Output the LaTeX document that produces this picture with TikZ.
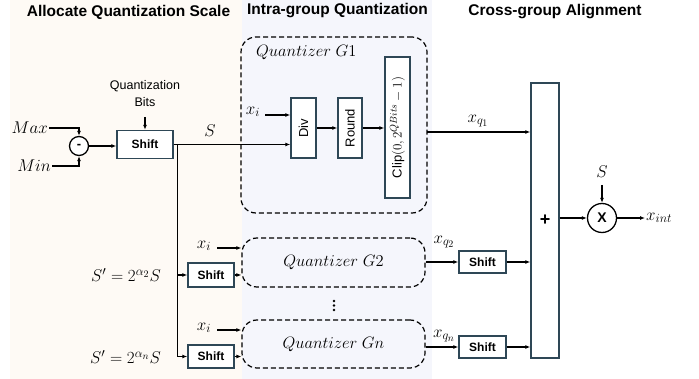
\RequirePackage{fix-cm}
\documentclass[tikz,border=0pt]{standalone}
\usepackage{fontspec}
\setmainfont{Liberation Sans}
\DeclareMathSizes{17}{17}{12.5}{10}
\DeclareMathSizes{16.5}{16.5}{12}{9.5}
\DeclareMathSizes{13}{13}{10}{8}
\usetikzlibrary{arrows.meta,positioning}
\definecolor{creambg}{HTML}{FEFAF5}
\definecolor{lavbg}{HTML}{F5F6FC}
\definecolor{boxline}{HTML}{2E4756}
\tikzset{
  every picture/.style={x=1pt,y=-1pt},
  arr/.style={line width=1.1pt,-{Latex[length=5pt,width=4pt]}},
  ln/.style={line width=1.1pt},
  title/.style={font=\bfseries\fontsize{15.5}{18}\selectfont,inner sep=0pt},
  blk/.style={draw=boxline,line width=1.4pt,fill=white,inner sep=0pt},
  shiftbox/.style={blk,font=\bfseries\fontsize{12}{14}\selectfont},
  vbox/.style={blk,font=\fontsize{13}{15}\selectfont},
  qbox/.style={draw=black,line width=1.2pt,dashed,dash pattern=on 5pt off 3pt,rounded corners=15pt,inner sep=0pt},
  mlab/.style={font=\fontsize{17}{19}\selectfont,inner sep=1pt},
  qlab/.style={font=\fontsize{16.5}{18}\selectfont},
  op/.style={draw=black,line width=1.3pt,circle,inner sep=0pt,fill=white},
}
\begin{document}
\begin{tikzpicture}
\useasboundingbox (0,0) rectangle (699,379);
\fill[creambg] (10,0) rectangle (242,379);
\fill[lavbg] (242,0) rectangle (432,379);

% titles
\node[title] (t1) at (128.5,12) {Allocate Quantization Scale};
\node[title] (t2) at (337.5,11) {Intra-group Quantization};
\node[title] (t3) at (555,12) {Cross-group Alignment};

% left section
\node[mlab,anchor=east] (maxl) at (49,128) {$Max$};
\node[mlab,anchor=east] (minl) at (52,166) {$Min$\hspace{5pt}};
\node[op,minimum size=19pt,font=\bfseries\fontsize{13}{14}\selectfont] (minus) at (79,146) {-};
\node[shiftbox,minimum width=56pt,minimum height=28pt] (shift1) at (145,144.5) {Shift};
\node[align=center,font=\fontsize{12.5}{17}\selectfont,inner sep=0pt] (qbits) at (145,94) {Quantization\\Bits};
\coordinate (qbarr) at (145,117);
\node[mlab] (slab) at (210,131) {$S$};
\coordinate (br) at (177.5,144.5);

\draw[arr] (maxl.east) -| (minus.north);
\draw[arr] (minl.east) -| (minus.south);
\draw[arr] (minus.east) -- (minus.east -| shift1.west);
\draw[arr] (qbarr) -- (shift1.north);

% quantizer G1
\node[qbox,minimum width=186pt,minimum height=176pt] (g1) at (334,125) {};
\node[qlab,anchor=west,inner sep=1pt] (g1lab) at (255,52) {$Quantizer\ G1$};
\node[vbox,minimum width=25pt,minimum height=60pt] (div) at (303.5,128) {\rotatebox{90}{Div}};
\node[vbox,minimum width=24pt,minimum height=60pt] (round) at (350,128) {\rotatebox{90}{Round}};
\node[vbox,minimum width=25pt,minimum height=141pt] (clip) at (397.5,127.5) {\rotatebox{90}{Clip$(0,2^{QBits}-1)$}};
\node[mlab] (xi1) at (253,112) {$x_i$};
\coordinate (xi1s) at (265,115);

\draw[arr] (shift1.east) -- (shift1.east -| div.west);
\draw[arr] (xi1s) -- (xi1s -| div.west);
\draw[arr] (div.east) -- (round.west);
\draw[arr] (round.east) -- (round.east -| clip.west);

% lower branches
\node[shiftbox,minimum width=46pt,minimum height=24pt] (shift2) at (211,275) {Shift};
\node[shiftbox,minimum width=46pt,minimum height=23pt] (shift3) at (211,356.5) {Shift};
\node[mlab,anchor=east] (sp2) at (162,275) {$S' = 2^{\alpha_2}S$};
\node[mlab,anchor=east] (spn) at (162,357) {$S' = 2^{\alpha_n}S$};
\node[qbox,qlab,minimum width=183pt,minimum height=49pt] (g2) at (333.5,262.5) {$Quantizer\ G2$};
\node[qbox,qlab,minimum width=183pt,minimum height=48pt] (gn) at (333.5,344) {$Quantizer\ Gn$};
\coordinate (dots) at (334,305.5);
\fill (dots) ++(0,-4.5) circle (1.4) (dots) circle (1.4) (dots) ++(0,4.5) circle (1.4);
\node[mlab] (xi2) at (204,246) {$x_i$};
\node[mlab] (xin) at (204,328) {$x_i$};
\coordinate (xi2s) at (217,248);
\coordinate (xins) at (217,330);

\draw[ln] (shift1.east) -- (br);
\draw[arr] (br) |- (shift3.west);
\draw[arr] (br |- shift2.west) -- (shift2.west);
\draw[arr] (shift2.east) -- (shift2.east -| g2.west);
\draw[arr] (shift3.east) -- (shift3.east -| gn.west);
\draw[arr] (xi2s) -- (xi2s -| g2.west);
\draw[arr] (xins) -- (xins -| gn.west);

% cross-group
\node[blk,minimum width=28pt,minimum height=275pt,font=\bfseries\fontsize{18}{19}\selectfont] (plus) at (545,220.5) {+};
\node[shiftbox,minimum width=47pt,minimum height=22pt] (shift4) at (482.5,262) {Shift};
\node[shiftbox,minimum width=47pt,minimum height=22pt] (shift5) at (482.5,347) {Shift};
\node[mlab] (xq1) at (478,121) {$x_{q_1}$};
\node[mlab] (xq2) at (444,242) {$x_{q_2}$};
\node[mlab] (xqn) at (444,336) {$x_{q_n}$};
\node[op,minimum size=29pt,font=\bfseries\fontsize{14}{16}\selectfont] (times) at (602,218) {X};
\node[mlab] (s2lab) at (602,172) {$S$};
\coordinate (s2s) at (602,185);
\node[mlab,anchor=west] (xint) at (645,218) {$x_{int}$};
\coordinate (g1out) at (427,132);

\draw[arr] (g1out) -- (g1out -| plus.west);
\draw[arr] (g2.east |- shift4.west) -- (shift4.west);
\draw[arr] (gn.east |- shift5.west) -- (shift5.west);
\draw[arr] (shift4.east) -- (shift4.east -| plus.west);
\draw[arr] (shift5.east) -- (shift5.east -| plus.west);
\draw[arr] (plus.east |- times.west) -- (times.west);
\draw[arr] (s2s) -- (times.north);
\draw[arr] (times.east) -- (xint.west);
\end{tikzpicture}
\end{document}
